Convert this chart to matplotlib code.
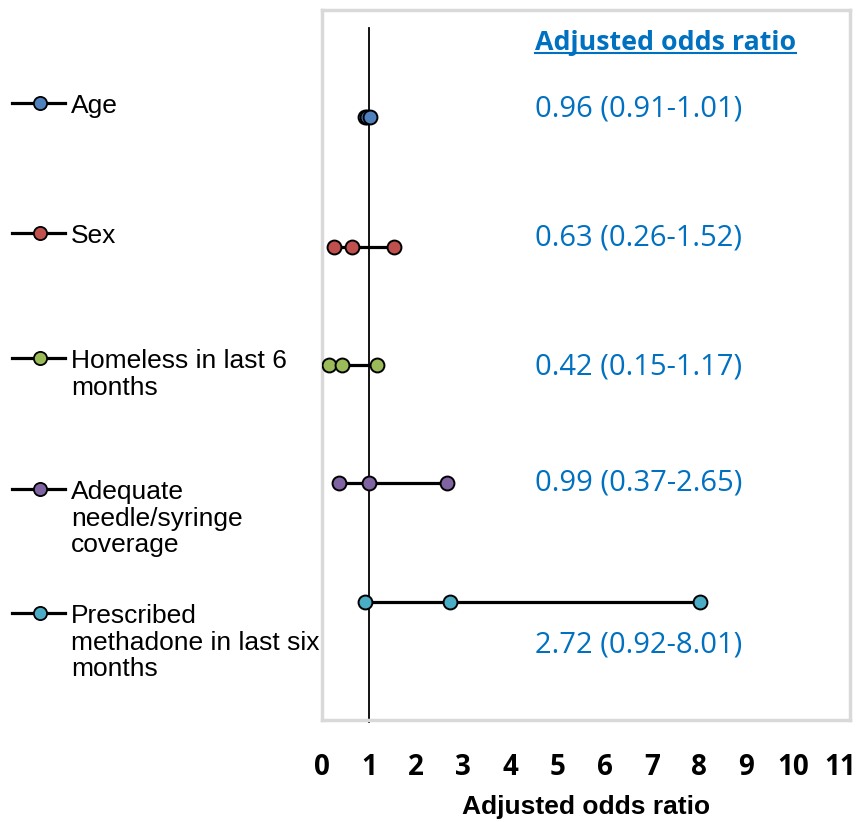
import matplotlib.pyplot as plt
from matplotlib.transforms import blended_transform_factory

# data
labels = ['Age', 'Sex', 'Homeless in last 6\nmonths',
          'Adequate\nneedle/syringe\ncoverage',
          'Prescribed\nmethadone in last six\nmonths']
aor = [0.96, 0.63, 0.42, 0.99, 2.72]
lower = [0.91, 0.26, 0.15, 0.37, 0.92]
upper = [1.01, 1.52, 1.17, 2.65, 8.01]
rows = [5.1, 4.0, 3.0, 2.0, 1.0]
colors = ['#4F81BD', '#C0504D', '#9BBB59', '#8064A2', '#4BACC6']
xticks = list(range(12))

blue = '#0070C0'
arial = 'Liberation Sans'
calibri = 'Open Sans'

fig = plt.figure(figsize=(8.61, 8.22), dpi=100)
ax = fig.add_axes([322/861, 1-720/822, 528/861, 710/822])

ax.plot([1, 1], [-0.02, 5.85], color='black', lw=1.3, zorder=1, clip_on=False)

# where the blue value labels sit (axis units)
text_y = [5.16, 4.07, 2.98, 2.0, 0.63]
for i in range(len(labels)):
    ax.plot([lower[i], upper[i]], [rows[i], rows[i]], color='black', lw=2.3, zorder=2)
    ax.plot([lower[i], aor[i], upper[i]], [rows[i]]*3, ls='none', marker='o',
            ms=10, mfc=colors[i], mec='black', mew=1.4, zorder=3)
    ax.text(4.52, text_y[i], '%.2f (%.2f-%.2f)' % (aor[i], lower[i], upper[i]),
            color=blue, fontsize=21, family=calibri, va='center', ha='left')

ax.text(4.52, 5.72, 'Adjusted odds ratio', color=blue, fontsize=19.3, family=calibri,
        fontweight='bold', va='center', ha='left')
ax.plot([4.52, 10.05], [5.64, 5.64], color=blue, lw=1.5, clip_on=False)

# legend drawn at the left side
tr = blended_transform_factory(ax.transAxes, fig.transFigure)
leg_y = [103, 233, 358, 489, 613]
for i in range(len(labels)):
    y = 1 - leg_y[i]/822
    ax.plot([-0.587, -0.487], [y, y], color='black', lw=2.3, transform=tr, clip_on=False)
    ax.plot([-0.534], [y], marker='o', ms=9.5, mfc=colors[i], mec='black', mew=1.3,
            transform=tr, clip_on=False)
    ax.text(-0.475, y + 8.6/822, labels[i], transform=tr, family=arial, fontsize=19,
            va='top', ha='left', linespacing=1.13)

ax.set_xlim(0, 11.2)
ax.set_ylim(0, 6)
ax.set_xticks(xticks)
ax.set_xticklabels([str(t) for t in xticks], fontsize=20, fontweight='bold', family=calibri)
ax.set_yticks([])
ax.tick_params(axis='x', length=0, pad=24)
for s in ax.spines.values():
    s.set_color('#D9D9D9')
    s.set_linewidth(2.5)
ax.set_xlabel('Adjusted odds ratio', fontsize=19, fontweight='bold', family=arial, labelpad=9)

fig.savefig('out.png', dpi=100)
